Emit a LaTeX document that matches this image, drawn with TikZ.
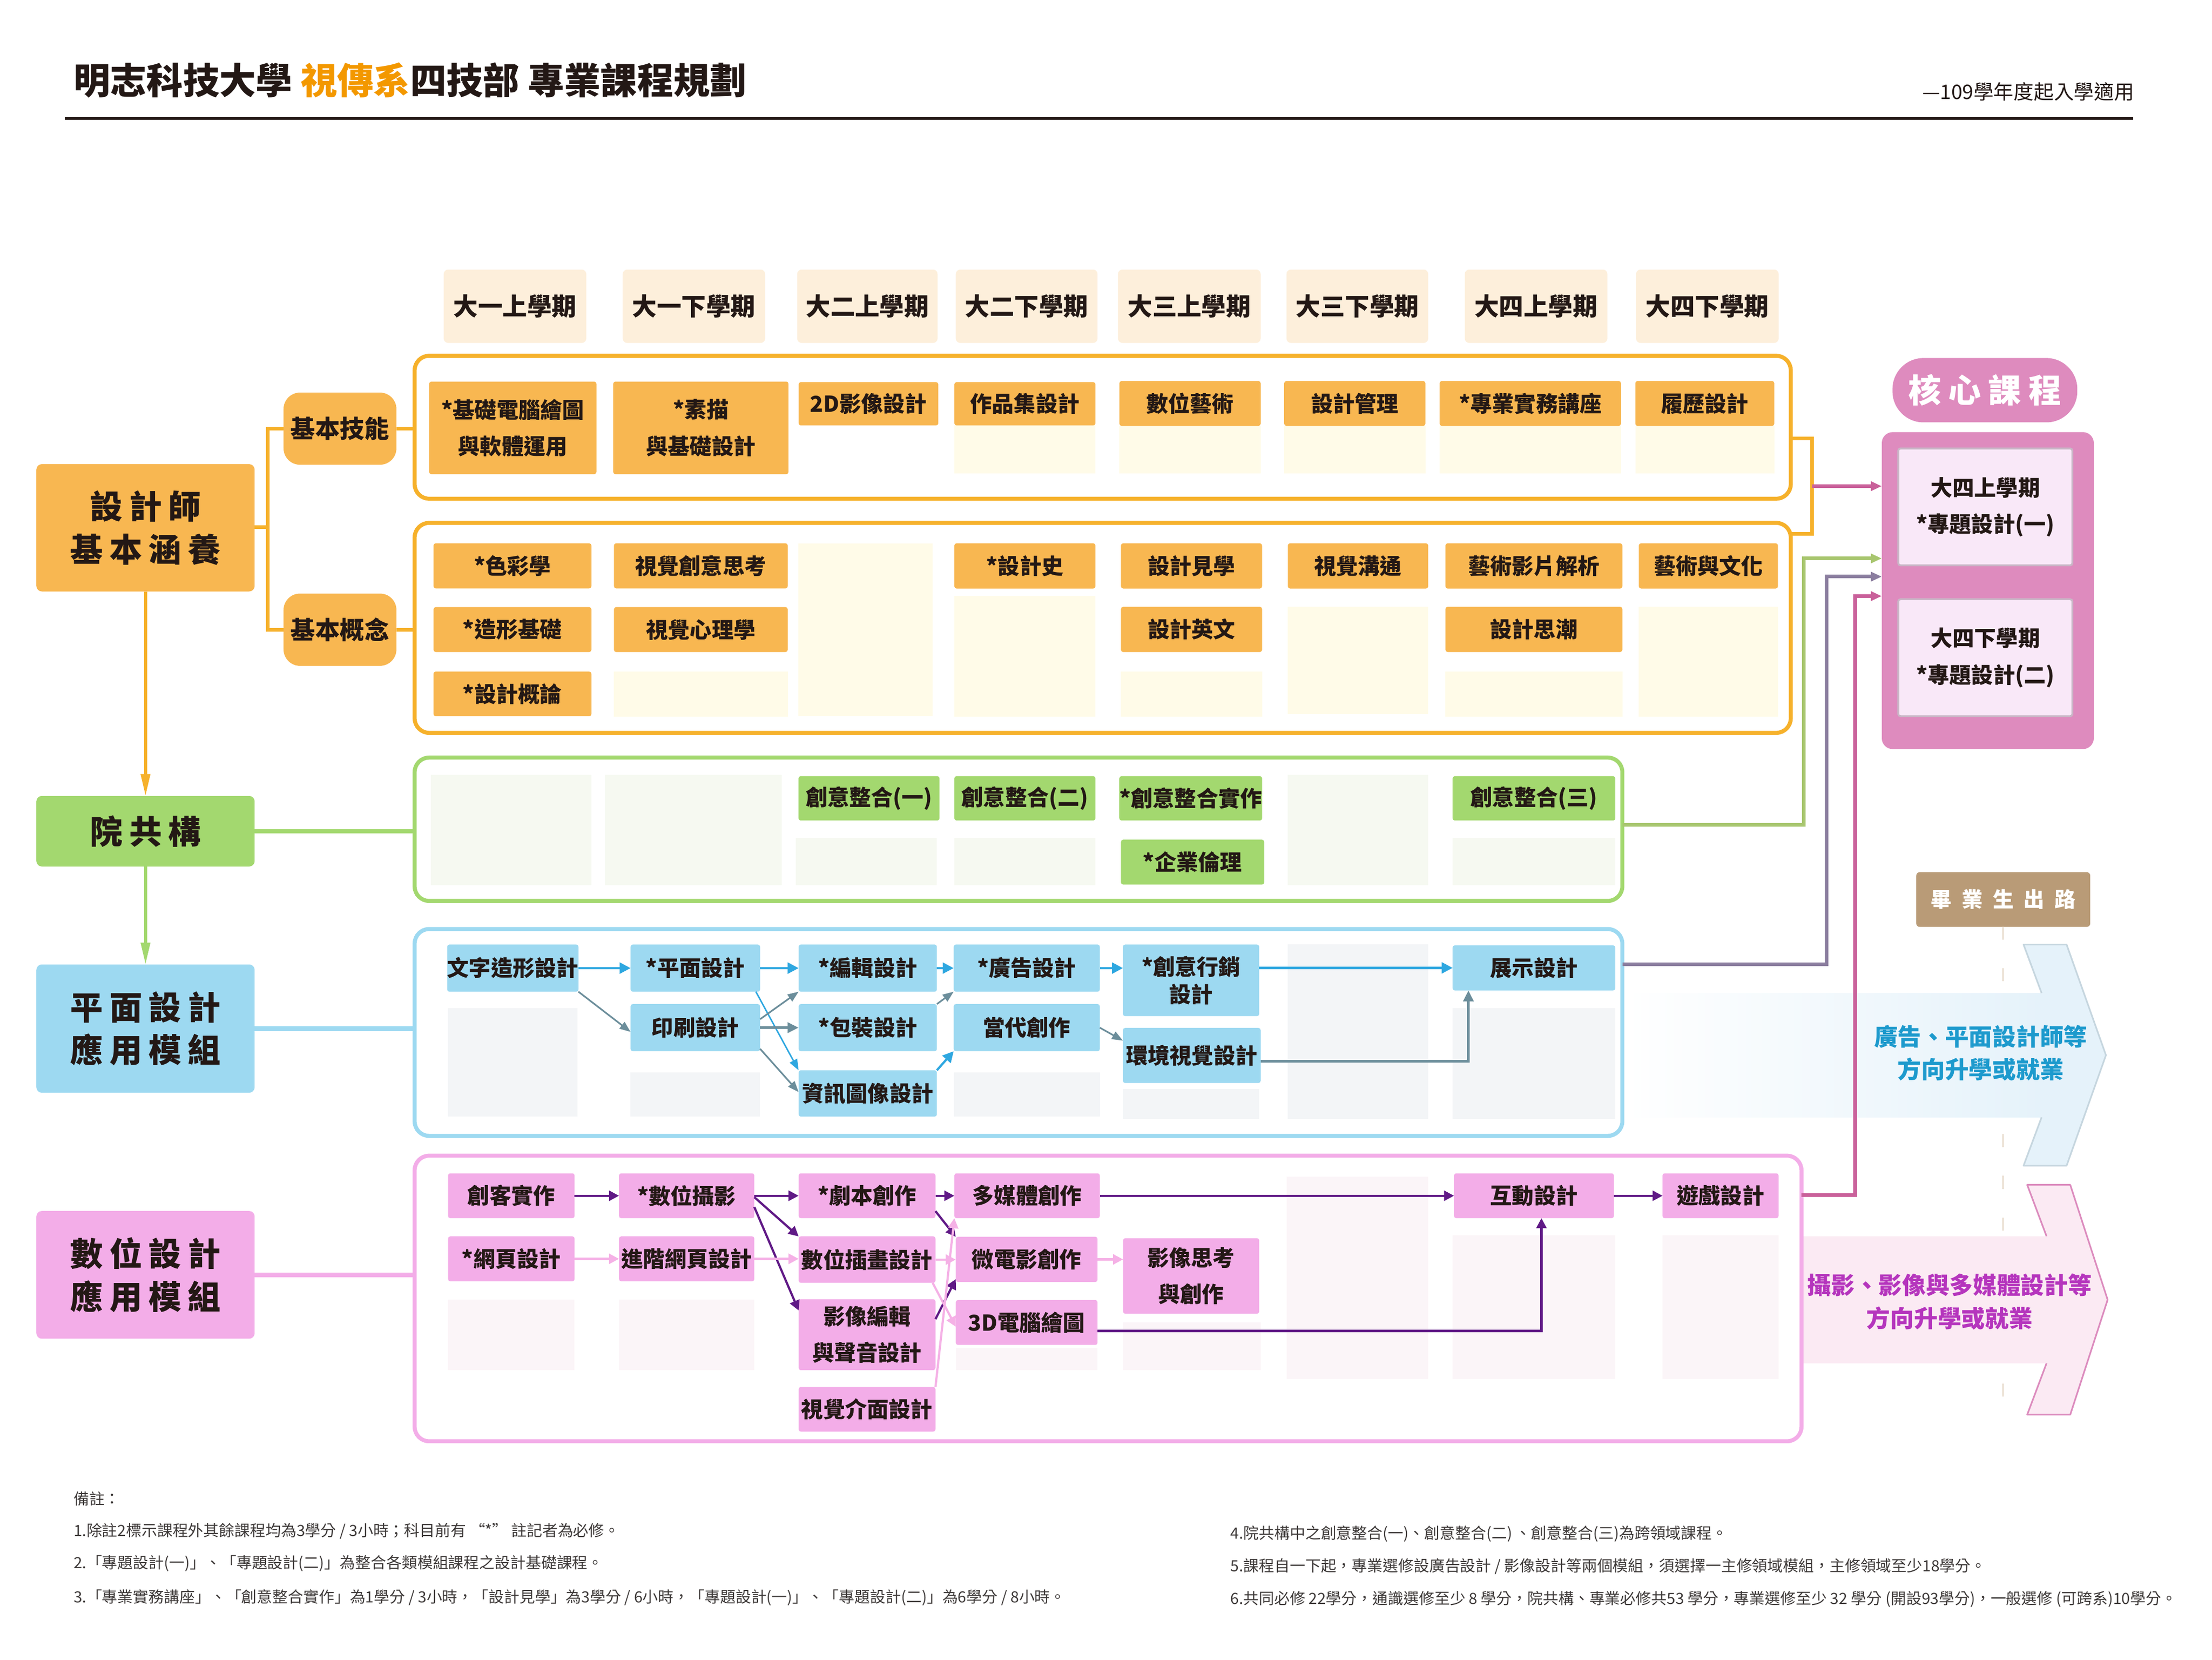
\documentclass[tikz,border=0pt]{standalone}
\usepackage{fontspec}
\setmainfont{Noto Sans CJK TC}
\usetikzlibrary{arrows.meta,calc}
\definecolor{txt}{HTML}{231815}
\definecolor{orgT}{HTML}{F39800}
\definecolor{obf}{HTML}{F8B751}
\definecolor{obd}{HTML}{F6B12B}
\definecolor{cream}{HTML}{FFFBE8}
\definecolor{hdr}{HTML}{FDEFDB}
\definecolor{grn}{HTML}{A3D86F}
\definecolor{grnph}{HTML}{F6F9F1}
\definecolor{blu}{HTML}{9DD9F1}
\definecolor{bluph}{HTML}{F3F5F7}
\definecolor{pnk}{HTML}{F3ADE8}
\definecolor{pnkph}{HTML}{FBF5F8}
\definecolor{corec}{HTML}{DE8BBE}
\definecolor{corein}{HTML}{F9E8F8}
\definecolor{coreedge}{HTML}{C9B6C6}
\definecolor{brn}{HTML}{B99B77}
\definecolor{arB}{HTML}{2EA7E0}
\definecolor{arG}{HTML}{6C8E9B}
\definecolor{arP}{HTML}{601986}
\definecolor{arLP}{HTML}{F5B1E6}
\definecolor{lnPk}{HTML}{C9609A}
\definecolor{lnPGc}{HTML}{8B7E9F}
\definecolor{lnGc}{HTML}{A8C66F}
\definecolor{bluearr}{HTML}{E5F2FA}
\definecolor{bluearrE}{HTML}{C6D6DF}
\definecolor{pinkarr}{HTML}{FBEAF3}
\definecolor{pinkarrE}{HTML}{DC8CBE}
\definecolor{bluetx}{HTML}{1D9ACD}
\definecolor{pinktx}{HTML}{B535BD}
\definecolor{dashc}{HTML}{EDE4D8}
\definecolor{foot}{HTML}{3E3A39}

\def\U{0.02721cm}
\newcommand\bx[7]{\node[#1, minimum width={(#5-#3)*\U}, minimum height={(#6-#4)*\U}] (#2) at ({(#3+#5)/2},{(#4+#6)/2}) {#7};}
\newcommand\ph[5]{\fill[#1] (#2,#3) rectangle (#4,#5);}

\tikzset{
  base/.style={inner sep=0pt, outer sep=0pt, text=txt, align=center},
  hdrbox/.style={base, fill=hdr, rounded corners=2.5pt, font=\bfseries\fontsize{13.5}{16}\selectfont},
  cbox/.style={base, rounded corners=1.2pt, font=\bfseries\fontsize{12}{20}\selectfont},
  boxO/.style={cbox, fill=obf},
  boxG/.style={cbox, fill=grn},
  boxB/.style={cbox, fill=blu},
  boxP/.style={cbox, fill=pnk},
  biglab/.style={base, rounded corners=3pt, font=\bfseries\fontsize{18}{23.5}\selectfont\addfontfeature{LetterSpace=20}},
  midlab/.style={base, fill=obf, rounded corners=9pt, font=\bfseries\fontsize{13.5}{16}\selectfont},
  frame/.style={inner sep=0pt, outer sep=0pt, line width=2.2pt, rounded corners=8pt, draw=#1},
  lnO/.style={draw=obd, line width=2pt},
  lnG/.style={draw=grn, line width=2.2pt},
  lnB/.style={draw=blu, line width=2.4pt},
  lnP/.style={draw=pnk, line width=2.4pt},
  lnK/.style={draw=lnPk, line width=2pt},
  lnGC/.style={draw=lnGc, line width=2pt},
  lnPG/.style={draw=lnPGc, line width=2pt},
  tipS/.style={-{Triangle[length=6pt,width=5pt]}},
  tipL/.style={-{Triangle[length=12pt,width=5pt]}},
  aB/.style={draw=arB, line width=1.2pt, -{Triangle[length=6pt,width=6pt]}},
  aBt/.style={draw=arB, line width=0.8pt, -{Triangle[length=6pt,width=4.5pt]}},
  aG/.style={draw=arG, line width=0.9pt, -{Triangle[length=6pt,width=4.5pt]}},
  aGt/.style={draw=arG, line width=1.5pt, -{Triangle[length=6pt,width=5.5pt]}},
  aP/.style={draw=arP, line width=1.2pt, -{Triangle[length=5.5pt,width=5.5pt]}},
  aL/.style={draw=arLP, line width=1.2pt, -{Triangle[length=5.5pt,width=5.5pt]}},
  fnote/.style={anchor=west, inner sep=0pt, text=foot, font=\fontsize{8.5}{10}\selectfont},
}

\begin{document}
\begin{tikzpicture}[x=\U, y=-\U]
\useasboundingbox (0,0) rectangle (1568,1176);
\fill[white] (0,0) rectangle (1568,1176);

% ---------- title ----------
\node[anchor=west, inner sep=0pt, text=txt, font=\bfseries\fontsize{20}{24}\selectfont] (title) at (52,57) {明志科技大學 \textcolor{orgT}{視傳系}四技部 專業課程規劃};
\node[anchor=east, inner sep=0pt, text=txt, font=\fontsize{11}{13}\selectfont] (subtitle) at (1513,65) {—109學年度起入學適用};
\draw[txt, line width=1.3pt] (46,84) -- (1512,84);

% ---------- career label and dashed line ----------
\bx{base, fill=brn, rounded corners=2pt, text=white, font=\bfseries\fontsize{11.5}{14}\selectfont\addfontfeature{LetterSpace=48}}{cr}{1358.3}{618}{1481.7}{656.8}{畢業生出路}
\draw[dashc, line width=1.2pt, dash pattern=on 0.25cm off 0.55cm] (cr.south) -- (cr.south |- 0,995);

% ---------- big arrows ----------
\shade[left color=white, right color=bluearr] (1152,703.7) rectangle (1448,791.7);
\fill[bluearr] (1447.2,703.7) -- (1434.4,669.3) -- (1464.9,669.3) -- (1492.8,747.7) -- (1464.9,826) -- (1434.4,826) -- (1447.2,791.7) -- cycle;
\draw[bluearrE, line width=0.9pt, line join=round] (1447.2,703.7) -- (1434.4,669.3) -- (1464.9,669.3) -- (1492.8,747.7) -- (1464.9,826) -- (1434.4,826) -- (1447.2,791.7);
\fill[pinkarr] (1277,876) rectangle (1451.5,966);
\fill[pinkarr] (1450.7,876) -- (1437,839.6) -- (1467.5,839.6) -- (1494,921) -- (1467.5,1002.4) -- (1437,1002.4) -- (1450.7,966) -- cycle;
\draw[pinkarrE, line width=0.9pt, line join=round] (1450.7,876) -- (1437,839.6) -- (1467.5,839.6) -- (1494,921) -- (1467.5,1002.4) -- (1437,1002.4) -- (1450.7,966);

% ---------- placeholders ----------
\ph{cream}{676.5}{301.5}{776.5}{335.4}
\ph{cream}{793.5}{301.8}{893.6}{335.4}
\ph{cream}{910.3}{301.8}{1010.4}{335.4}
\ph{cream}{1020.5}{301.8}{1149}{335.4}
\ph{cream}{1159.2}{301.8}{1257.7}{335.4}
\ph{cream}{435.2}{476}{558.4}{508}
\ph{cream}{566}{385}{661}{507.5}
\ph{cream}{676.5}{422.4}{776.5}{508}
\ph{cream}{794.6}{476}{894.6}{508}
\ph{cream}{912.9}{430}{1012.4}{506}
\ph{cream}{1024.6}{476}{1150}{508}
\ph{cream}{1161.7}{430}{1260.3}{508}
\ph{grnph}{305.2}{549}{419.2}{627.3}
\ph{grnph}{429}{549}{554.3}{627.3}
\ph{grnph}{564}{594}{664}{627.3}
\ph{grnph}{676.5}{594}{776.5}{627.3}
\ph{grnph}{912.9}{549}{1012.4}{627.3}
\ph{grnph}{1029.7}{594}{1145}{627.3}
\ph{bluph}{317.6}{714.3}{409.4}{791.2}
\ph{bluph}{447}{759.9}{538.8}{791.2}
\ph{bluph}{676}{759.9}{779.6}{791.2}
\ph{bluph}{796}{771.5}{892.6}{793.1}
\ph{bluph}{912.9}{669.3}{1012.4}{793.1}
\ph{bluph}{1029.7}{714.3}{1145}{793.1}
\ph{pnkph}{317.6}{921}{407.3}{970.9}
\ph{pnkph}{438.8}{921}{534.7}{970.9}
\ph{pnkph}{677.5}{955.2}{778}{970.9}
\ph{pnkph}{796}{937}{893.6}{970.9}
\ph{pnkph}{912}{833.8}{1012.4}{977}
\ph{pnkph}{1029.7}{875.2}{1145}{977}
\ph{pnkph}{1178.5}{875.2}{1260.7}{977}

% ---------- frames ----------
\bx{frame=obd}{fr1}{293.9}{252.1}{1269.4}{353.4}{}
\bx{frame=obd}{fr2}{293.9}{370.5}{1269.4}{519.3}{}
\bx{frame=grn}{frG}{293.9}{536.8}{1150}{638.4}{}
\bx{frame=blu}{frB}{293.9}{658.3}{1150}{804.9}{}
\bx{frame=pnk}{frP}{293.9}{818.9}{1277}{1021.3}{}

% ---------- semester headers ----------
\bx{hdrbox}{h1}{314.5}{191}{415.6}{243}{大一上學期}
\bx{hdrbox}{h2}{441.4}{191}{542.4}{243}{大一下學期}
\bx{hdrbox}{h3}{565.1}{191}{664.6}{243}{大二上學期}
\bx{hdrbox}{h4}{677.5}{191}{778}{243}{大二下學期}
\bx{hdrbox}{h5}{792.5}{191}{893.6}{243}{大三上學期}
\bx{hdrbox}{h6}{911.9}{191}{1012.4}{243}{大三下學期}
\bx{hdrbox}{h7}{1038.3}{191}{1139.4}{243}{大四上學期}
\bx{hdrbox}{h8}{1159.7}{191}{1260.8}{243}{大四下學期}

% ---------- left labels ----------
\bx{biglab, fill=obf}{sjs}{25.8}{328.9}{180.5}{419.1}{設計師\\基本涵養}
\bx{midlab}{jbjn}{201}{278.2}{281}{329.3}{基本技能}
\bx{midlab}{jbgn}{201}{420.6}{281}{471.8}{基本概念}
\bx{biglab, fill=grn}{ygg}{25.8}{564}{180.5}{614}{院共構}
\bx{biglab, fill=blu}{pmsj}{25.8}{683.4}{180.5}{774.3}{平面設計\\應用模組}
\bx{biglab, fill=pnk}{smsj}{25.8}{858.1}{180.5}{948.6}{數位設計\\應用模組}

% ---------- orange row 1 ----------
\bx{boxO}{k1}{304.2}{270.4}{422.8}{336}{*基礎電腦繪圖\\與軟體運用}
\bx{boxO}{k2}{434.7}{270.4}{558.9}{336}{*素描\\與基礎設計}
\bx{boxO}{k3}{566.1}{270.8}{665.1}{301.5}{2D影像設計}
\bx{boxO}{k4}{676.5}{270.8}{776.5}{301.5}{作品集設計}
\bx{boxO}{k5}{793.5}{270}{893.6}{301.8}{數位藝術}
\bx{boxO}{k6}{910.3}{270}{1010.4}{301.8}{設計管理}
\bx{boxO}{k7}{1020.5}{270}{1149}{301.8}{*專業實務講座}
\bx{boxO}{k8}{1159.2}{270}{1257.7}{301.8}{履歷設計}

% ---------- orange row 2 ----------
\bx{boxO}{g1}{307.3}{385}{419.2}{416.9}{*色彩學}
\bx{boxO}{g2}{435.2}{385}{558.4}{416.9}{視覺創意思考}
\bx{boxO}{g3}{676.5}{385}{776.5}{417}{*設計史}
\bx{boxO}{g4}{794.6}{385}{894.6}{417}{設計見學}
\bx{boxO}{g5}{912.9}{385}{1012.4}{417}{視覺溝通}
\bx{boxO}{g6}{1024.6}{385}{1150}{417}{藝術影片解析}
\bx{boxO}{g7}{1161.7}{385}{1260.3}{417}{藝術與文化}
\bx{boxO}{g8}{307.3}{430.2}{419.2}{462}{*造形基礎}
\bx{boxO}{g9}{435.2}{430.2}{558.4}{462}{視覺心理學}
\bx{boxO}{g10}{794.6}{430}{894.6}{462}{設計英文}
\bx{boxO}{g11}{1024.6}{430}{1150}{462}{設計思潮}
\bx{boxO}{g12}{307.3}{475.9}{419.2}{507.5}{*設計概論}

% ---------- green row ----------
\bx{boxG}{y1}{566}{550}{666}{581.4}{創意整合(一)}
\bx{boxG}{y2}{676.5}{550}{776.5}{581.4}{創意整合(二)}
\bx{boxG}{y3}{793.5}{550}{894.6}{581.4}{*創意整合實作}
\bx{boxG}{y4}{794.6}{595}{896.1}{626.8}{*企業倫理}
\bx{boxG}{y5}{1029.7}{550}{1145}{581.4}{創意整合(三)}

% ---------- blue module ----------
\bx{boxB}{wz}{317.6}{669.3}{409.4}{702.7}{文字造形設計}
\bx{boxB}{pd}{447}{669.3}{538.8}{702.7}{*平面設計}
\bx{boxB}{bj}{566.1}{669.3}{664.1}{702.7}{*編輯設計}
\bx{boxB}{gg}{676}{669.3}{779.6}{702.7}{*廣告設計}
\bx{boxB, font=\bfseries\fontsize{12}{15}\selectfont}{cy}{796}{669.3}{892.6}{720}{*創意行銷\\設計}
\bx{boxB}{zs}{1029.7}{669.9}{1145}{701.8}{展示設計}
\bx{boxB}{ys}{447}{711.5}{538.8}{744.9}{印刷設計}
\bx{boxB}{bz}{566.1}{711.5}{664.1}{744.9}{*包裝設計}
\bx{boxB}{dd}{676}{711.5}{779.6}{744.9}{當代創作}
\bx{boxB}{hj}{796}{728.4}{893.6}{767.4}{環境視覺設計}
\bx{boxB}{zx}{566.1}{758.4}{664.1}{791.2}{資訊圖像設計}

% ---------- pink module ----------
\bx{boxP}{ck}{317.6}{831.4}{407.3}{863.2}{創客實作}
\bx{boxP}{sy}{438.8}{831.4}{534.7}{863.2}{*數位攝影}
\bx{boxP}{jb}{566.1}{831.4}{663.1}{863.2}{*劇本創作}
\bx{boxP}{dm}{676.5}{831.4}{779.6}{863.2}{多媒體創作}
\bx{boxP}{hd}{1030.7}{831.4}{1144}{863.2}{互動設計}
\bx{boxP}{yx}{1178.5}{831.4}{1260.7}{863.2}{遊戲設計}
\bx{boxP}{wy}{317.6}{876.1}{407.3}{907.9}{*網頁設計}
\bx{boxP}{jj}{438.8}{876.1}{534.7}{907.9}{進階網頁設計}
\bx{boxP}{sc}{566.1}{876.1}{663.1}{909}{數位插畫設計}
\bx{boxP}{wd}{677.5}{876.4}{778}{908.4}{微電影創作}
\bx{boxP}{yk}{796.1}{877.4}{892.6}{930.9}{影像思考\\與創作}
\bx{boxP}{yb}{566.1}{920.6}{663.1}{970.9}{影像編輯\\與聲音設計}
\bx{boxP}{td}{677.5}{921.2}{778}{953}{3D電腦繪圖}
\bx{boxP}{vi}{566.1}{982.8}{663.1}{1014.4}{視覺介面設計}

% ---------- core ----------
\bx{base, fill=corec, rounded corners=17pt, text=white, font=\bfseries\fontsize{18}{22}\selectfont\addfontfeature{LetterSpace=22}}{corelab}{1341.5}{253.7}{1472.5}{299.3}{核心課程}
\bx{base, fill=corec, rounded corners=6pt}{core}{1333.9}{306.2}{1484.2}{530.8}{}
\bx{cbox, fill=corein, draw=coreedge, line width=1pt}{cs1}{1345.6}{317.8}{1469}{400.6}{大四上學期\\*專題設計(一)}
\bx{cbox, fill=corein, draw=coreedge, line width=1pt}{cs2}{1345.6}{424.6}{1469}{507.5}{大四下學期\\*專題設計(二)}

% ---------- left connectors ----------
\coordinate (tj) at (189.7,373.4);
\draw[lnO] (sjs.east |- tj) -- (tj);
\draw[lnO] (jbjn.west) -| (tj) |- (jbgn.west);
\draw[lnO] (jbjn.east) -- (jbjn.east -| fr1.west);
\draw[lnO] (jbgn.east) -- (jbgn.east -| fr2.west);
\draw[draw=obd, line width=1.6pt, tipL] (sjs.south) -- (ygg.north);
\draw[draw=grn, line width=1.6pt, tipL] (ygg.south) -- (pmsj.north);
\draw[lnG] (ygg.east) -- (ygg.east -| frG.west);
\draw[lnB] (pmsj.east) -- (pmsj.east -| frB.west);
\draw[lnP] (smsj.east) -- (smsj.east -| frP.west);

% ---------- connectors to core ----------
\draw[lnO] (fr1.east |- 0,310.7) -- (1284.6,310.7) -- (1284.6,378.3) -- (fr2.east |- 0,378.3);
\coordinate (brk) at (1284.6,344.5);
\draw[lnK, tipS] (brk) -- (brk -| core.west);
\draw[lnGC, tipS] (frG.east |- 0,584.6) -| (1278.5,395.7) -- (core.west |- 0,395.7);
\draw[lnPG, tipS] (frB.east |- 0,683.4) -| (1294.8,408.6) -- (core.west |- 0,408.6);
\draw[lnK, tipS] (frP.east |- 0,847) -| (1315.1,422.4) -- (core.west |- 0,422.4);

% ---------- blue module arrows ----------
\draw[aB] (wz.east) -- (pd.west);
\draw[aB] (pd.east) -- (bj.west);
\draw[aB] (bj.east) -- (gg.west);
\draw[aB] (gg.east) -- (gg.east -| cy.west);
\draw[aB] (cy.east |- zs.west) -- (zs.west);
\draw[aBt] ($(pd.south east)+(-3,0)$) -- (zx.north west);
\draw[aG] (wz.south east) -- ($(ys.west)+(0,3)$);
\draw[aG] ($(ys.east)+(0,-6)$) -- (bj.south west);
\draw[aGt] (ys.east) -- (bz.west);
\draw[aG] ($(ys.east)+(0,15)$) -- ($(zx.west)+(0,-1)$);
\draw[aG] (bz.north east) -- (gg.south west);
\draw[aB] (zx.north east) -- (dd.south west);
\draw[aG] (dd.east) -- ($(hj.north west)+(0,9)$);
\draw[aGt] ($(hj.east)+(0,4)$) -| ($(zs.south west)+(11.2,0)$);

% ---------- pink module arrows ----------
\draw[aP] (ck.east) -- (sy.west);
\draw[aP] (sy.east) -- (jb.west);
\draw[aP] (jb.east) -- (dm.west);
\draw[aP] (dm.east) -- (hd.west);
\draw[aP] (hd.east) -- (yx.west);
\draw[aP] ($(sy.east)+(0,1)$) -- (sc.north west);
\draw[aP] ($(sy.east)+(0,8)$) -- ($(yb.north west)+(0,8)$);
\draw[aP] ($(jb.south east)+(0,-5)$) -- (wd.north west);
\draw[aP] ($(yb.east)+(0,-11)$) -- ($(wd.south west)+(0,-2)$);
\draw[aP] ($(td.east)+(0,6)$) -| ($(hd.south)+(5.3,0)$);
\draw[aL] (wy.east) -- (jj.west);
\draw[aL] (jj.east) -- (jj.east -| sc.west);
\draw[aL] (sc.east) -- (sc.east -| wd.west);
\draw[aL] (wd.east) -- (wd.east -| yk.west);
\draw[aL] ($(sc.south east)+(-2,0)$) -- ($(td.west)+(0,3)$);
\draw[aL] (vi.north east) -- (dm.south west);

% ---------- arrow texts ----------
\node[inner sep=0pt, align=center, text=bluetx, font=\bfseries\fontsize{13}{18}\selectfont] (ta) at (1404,746.3) {廣告、平面設計師等\\方向升學或就業};
\node[inner sep=0pt, align=center, text=pinktx, font=\bfseries\fontsize{13}{18}\selectfont] (tb) at (1382,922.4) {攝影、影像與多媒體設計等\\方向升學或就業};

% ---------- notes ----------
\node[fnote] (n0) at (52,1062) {備註：};
\node[fnote] (n1) at (52,1085) {1.除註2標示課程外其餘課程均為3學分 / 3小時；科目前有 “*” 註記者為必修。};
\node[fnote] (n2) at (52,1108) {2.「專題設計(一)」、「專題設計(二)」為整合各類模組課程之設計基礎課程。};
\node[fnote] (n3) at (52,1132) {3.「專業實務講座」、「創意整合實作」為1學分 / 3小時，「設計見學」為3學分 / 6小時，「專題設計(一)」、「專題設計(二)」為6學分 / 8小時。};
\node[fnote] (n4) at (872,1087) {4.院共構中之創意整合(一)、創意整合(二) 、創意整合(三)為跨領域課程。};
\node[fnote] (n5) at (872,1110) {5.課程自一下起，專業選修設廣告設計 / 影像設計等兩個模組，須選擇一主修領域模組，主修領域至少18學分。};
\node[fnote] (n6) at (872,1133) {6.共同必修 22學分，通識選修至少 8 學分，院共構、專業必修共53 學分，專業選修至少 32 學分 (開設93學分)，一般選修 (可跨系)10學分。};
\end{tikzpicture}
\end{document}
